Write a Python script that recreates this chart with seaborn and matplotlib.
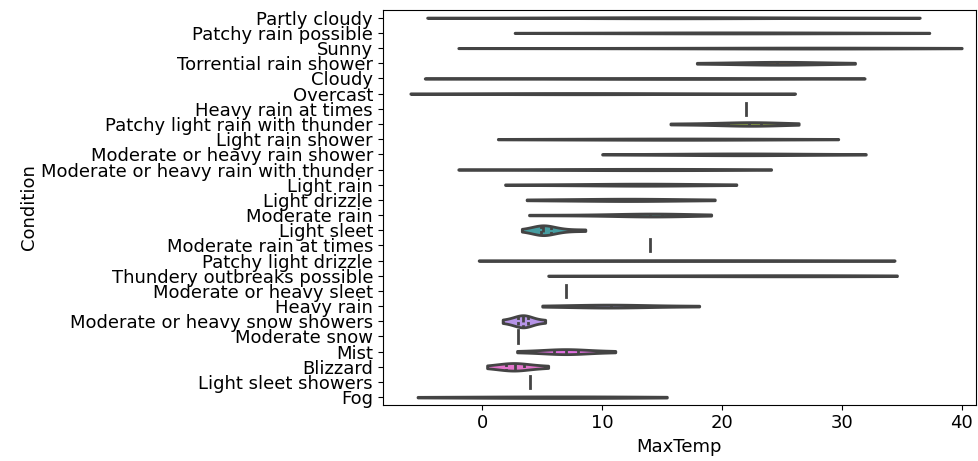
import matplotlib.pyplot as plt
import seaborn as sns
import pandas as pd

conditions = [
    "Partly cloudy", "Patchy rain possible", "Sunny", "Torrential rain shower",
    "Cloudy", "Overcast", "Heavy rain at times", "Patchy light rain with thunder",
    "Light rain shower", "Moderate or heavy rain shower",
    "Moderate or heavy rain with thunder", "Light rain", "Light drizzle",
    "Moderate rain", "Light sleet", "Moderate rain at times", "Patchy light drizzle",
    "Thundery outbreaks possible", "Moderate or heavy sleet", "Heavy rain",
    "Moderate or heavy snow showers", "Moderate snow", "Mist", "Blizzard",
    "Light sleet showers", "Fog",
]

# max temperature readings per condition (estimated from the chart)
partly_cloudy = [-4.6, 5, 10, 13, 15, 16, 17, 18, 20, 24, 30, 36.5]
patchy_rain_possible = [2.7, 10, 15, 18, 20, 22, 24, 27, 32, 37.3]
sunny = [-2, 8, 15, 20, 24, 26, 28, 29, 31, 34, 40]
torrential_rain_shower = [17.9, 21, 23, 24, 24.6, 25.5, 26.8, 28, 31.1]
cloudy = [-4.8, 3, 8, 12, 15, 17, 19, 22, 26, 31.9]
overcast = [-6, 0, 4, 6, 8, 9, 11, 14, 19, 26.1]
heavy_rain_at_times = [22.0]
patchy_light_rain_thunder = [15.7, 19, 21, 22, 22.5, 23, 24, 26.4]
light_rain_shower = [1.3, 7, 11, 14, 16, 18, 20, 23, 29.7]
mod_heavy_rain_shower = [10, 15, 18, 20, 21, 22, 23, 25, 28, 32]
mod_heavy_rain_thunder = [-2, 4, 8, 11, 13, 15, 17, 20, 24.1]
light_rain = [1.9, 7, 10, 12, 13.5, 14, 15, 17, 21.2]
light_drizzle = [3.7, 7, 9, 11, 12, 13, 14, 16, 19.4]
moderate_rain = [3.9, 9, 12.5, 13.5, 14, 14.2, 15, 16, 19.1]
light_sleet = [3.3, 4.5, 4.8, 5.0, 5.0, 5.1, 5.2, 5.5, 6.0, 7.0, 8.6]
moderate_rain_at_times = [14.0]
patchy_light_drizzle = [-0.3, 6, 11, 15, 18, 21, 25, 29, 34.4]
thundery_outbreaks = [5.5, 12, 17, 21, 24, 26, 28, 31, 34.6]
mod_heavy_sleet = [7.0]
heavy_rain = [5, 8, 9.5, 10.5, 11, 12, 14, 18.1]
mod_heavy_snow_showers = [1.7, 2.6, 3.0, 3.3, 3.4, 3.5, 3.8, 4.2, 5.25]
moderate_snow = [3.0]
mist = [2.9, 5.0, 6.0, 6.6, 7.0, 7.3, 8.0, 9.0, 11.1]
blizzard = [0.4, 1.5, 2.0, 2.4, 2.7, 3.0, 3.5, 4.2, 5.5]
light_sleet_showers = [4.0]
fog = [-5.4, -1, 2, 4, 6, 8, 10, 12, 15.4]

temps = [
    partly_cloudy, patchy_rain_possible, sunny, torrential_rain_shower, cloudy,
    overcast, heavy_rain_at_times, patchy_light_rain_thunder, light_rain_shower,
    mod_heavy_rain_shower, mod_heavy_rain_thunder, light_rain, light_drizzle,
    moderate_rain, light_sleet, moderate_rain_at_times, patchy_light_drizzle,
    thundery_outbreaks, mod_heavy_sleet, heavy_rain, mod_heavy_snow_showers,
    moderate_snow, mist, blizzard, light_sleet_showers, fog,
]

rows = [(c, t) for c, vals in zip(conditions, temps) for t in vals]
df = pd.DataFrame(rows, columns=["Condition", "MaxTemp"])

plt.rcParams["font.size"] = 13

fig, ax = plt.subplots(figsize=(9.79, 4.61), dpi=100)

sns.violinplot(
    data=df,
    x="MaxTemp",
    y="Condition",
    hue="Condition",
    order=conditions,
    hue_order=conditions,
    palette="husl",
    legend=False,
    inner="quartile",
    cut=0,
    common_norm=True,
    linewidth=2,
    linecolor="#444444",
    ax=ax,
)

ax.set_xlim(-8.3, 41.2)
ax.set_xticks([0, 10, 20, 30, 40])
ax.set_ylabel("Condition", labelpad=2)

fig.subplots_adjust(left=0.391, right=0.997, top=0.978, bottom=0.122)
fig.savefig("out.png")
